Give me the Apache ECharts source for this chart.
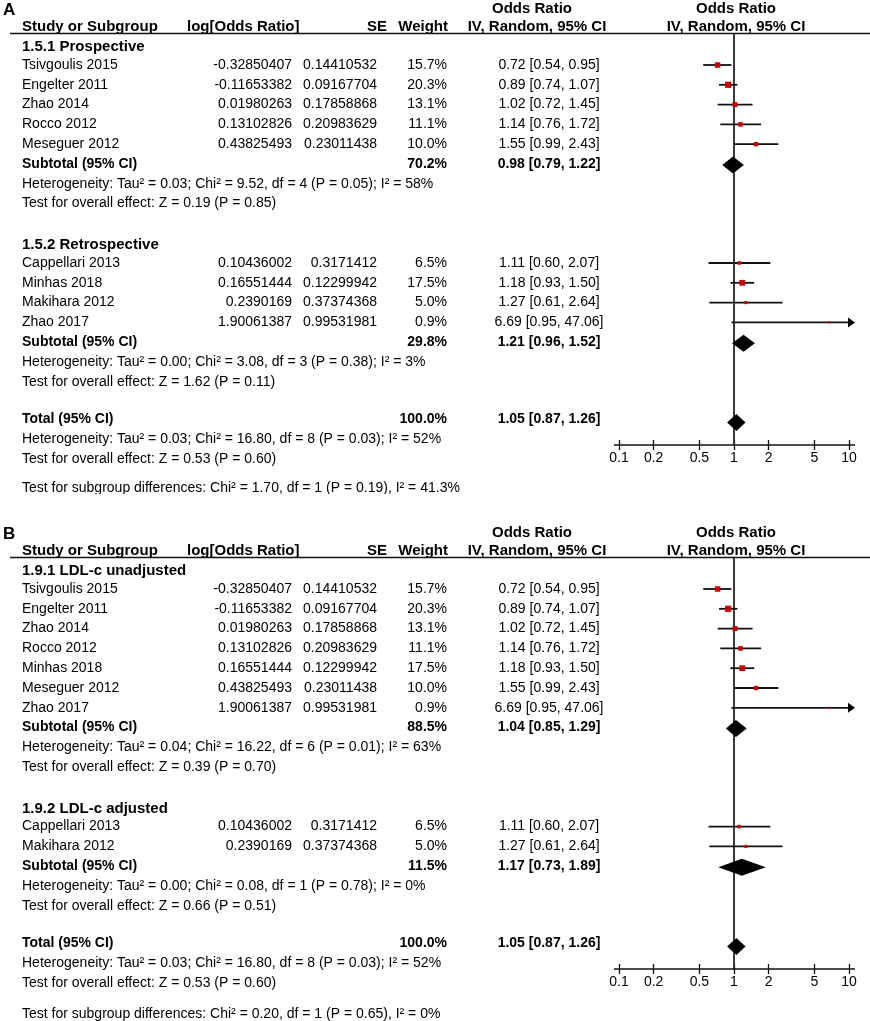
<!DOCTYPE html>
<html><head><meta charset="utf-8">
<script src="https://cdn.jsdelivr.net/npm/echarts@6/dist/echarts.min.js"></script>
<style>html,body{margin:0;padding:0;background:#fff}#c{width:870px;height:1021px}</style>
</head><body><div id="c"></div><script>
// ---------- data ----------
const studyNames = ['Tsivgoulis 2015','Engelter 2011','Zhao 2014','Rocco 2012','Meseguer 2012','Cappellari 2013','Minhas 2018','Makihara 2012','Zhao 2017'];
const logOR   = [-0.32850407,-0.11653382,0.01980263,0.13102826,0.43825493,0.10436002,0.16551444,0.2390169,1.90061387];
const seVals  = [0.14410532,0.09167704,0.17858868,0.20983629,0.23011438,0.3171412,0.12299942,0.37374368,0.99531981];
const weights = [15.7,20.3,13.1,11.1,10.0,6.5,17.5,5.0,0.9];
const orVals  = [0.72,0.89,1.02,1.14,1.55,1.11,1.18,1.27,6.69];
const ciLow   = [0.54,0.74,0.72,0.76,0.99,0.60,0.93,0.61,0.95];
const ciHigh  = [0.95,1.07,1.45,1.72,2.43,2.07,1.50,2.64,47.06];

const groupTitlesA = ['1.5.1 Prospective','1.5.2 Retrospective'];
const groupStudiesA = [[0,1,2,3,4],[5,6,7,8]];
const subWeightA = [70.2,29.8];
const subOrA = [0.98,1.21];
const subLowA = [0.79,0.96];
const subHighA = [1.22,1.52];
const subHetA = ['Heterogeneity: Tau² = 0.03; Chi² = 9.52, df = 4 (P = 0.05); I² = 58%','Heterogeneity: Tau² = 0.00; Chi² = 3.08, df = 3 (P = 0.38); I² = 3%'];
const subTestA = ['Test for overall effect: Z = 0.19 (P = 0.85)','Test for overall effect: Z = 1.62 (P = 0.11)'];
const diffA = 'Test for subgroup differences: Chi² = 1.70, df = 1 (P = 0.19), I² = 41.3%';

const groupTitlesB = ['1.9.1 LDL-c unadjusted','1.9.2 LDL-c adjusted'];
const groupStudiesB = [[0,1,2,3,6,4,8],[5,7]];
const subWeightB = [88.5,11.5];
const subOrB = [1.04,1.17];
const subLowB = [0.85,0.73];
const subHighB = [1.29,1.89];
const subHetB = ['Heterogeneity: Tau² = 0.04; Chi² = 16.22, df = 6 (P = 0.01); I² = 63%','Heterogeneity: Tau² = 0.00; Chi² = 0.08, df = 1 (P = 0.78); I² = 0%'];
const subTestB = ['Test for overall effect: Z = 0.39 (P = 0.70)','Test for overall effect: Z = 0.66 (P = 0.51)'];
const diffB = 'Test for subgroup differences: Chi² = 0.20, df = 1 (P = 0.65), I² = 0%';

const totalWeight = 100.0, totalOr = 1.05, totalLow = 0.87, totalHigh = 1.26;
const totalHet = 'Heterogeneity: Tau² = 0.03; Chi² = 16.80, df = 8 (P = 0.03); I² = 52%';
const totalTest = 'Test for overall effect: Z = 0.53 (P = 0.60)';

const tickValues = [0.1,0.2,0.5,1,2,5,10];
const tickLabels = ['0.1','0.2','0.5','1','2','5','10'];
const panelLabels = ['A','B'];

// ---------- layout / style ----------
const FONT = "'Liberation Sans', Arial, Helvetica, sans-serif";
const FS = 14;
const HFS = 15;
const ROW_PX = 19.8;
const GRID_TOPS = [34, 558];
const GRID_H = 411;
const FIRST_STUDY_OFF = 31; // px from grid top to row 1
const Y_MIN = 1 - FIRST_STUDY_OFF / ROW_PX;
const Y_MAX = Y_MIN + GRID_H / ROW_PX;
const COL = {study:22, logR:292, seR:377, wR:447, effC:549};
const HEAD = {logL:187, seR:387, wR:448, effC:532, forestC:736};
const RED = '#c80000';

const panels = [
  {titles:groupTitlesA, studies:groupStudiesA, w:subWeightA, or:subOrA, lo:subLowA, hi:subHighA, het:subHetA, test:subTestA, diff:diffA},
  {titles:groupTitlesB, studies:groupStudiesB, w:subWeightB, or:subOrB, lo:subLowB, hi:subHighB, het:subHetB, test:subTestB, diff:diffB}
];

function fmtCI(o,l,h){return o.toFixed(2)+' ['+l.toFixed(2)+', '+h.toFixed(2)+']';}

function buildRows(P){
  const rows=[]; let r=0;
  P.titles.forEach((t,gi)=>{
    rows.push({r:r++, kind:'heading', text:t});
    P.studies[gi].forEach(si=>rows.push({r:r++, kind:'study', si}));
    rows.push({r:r++, kind:'subtotal', gi});
    rows.push({r:r++, kind:'note', text:P.het[gi]});
    rows.push({r:r++, kind:'note', text:P.test[gi]});
    r++;
  });
  rows.push({r:r++, kind:'total'});
  rows.push({r:r++, kind:'tnote', text:totalHet});
  rows.push({r:r++, kind:'tnote', text:totalTest});
  rows.push({r:r++, kind:'diff', text:P.diff});
  return rows;
}

const chart = echarts.init(document.getElementById('c'), null, {renderer:'canvas'});

const grids=[], xAxes=[], yAxes=[], series=[];
panels.forEach((P,pi)=>{
  const rows = buildRows(P);
  P.rows = rows;
  grids.push({left:619, width:230, top:GRID_TOPS[pi], height:GRID_H, containLabel:false});
  xAxes.push({type:'log', logBase:10, min:0.1, max:10, gridIndex:pi, position:'bottom', offset:-5,
    axisLine:{show:false, onZero:false}, splitLine:{show:false},
    axisTick:{show:true, customValues:tickValues, length:10, lineStyle:{color:'#111', width:1.3}},
    axisLabel:{show:true, customValues:tickValues, margin:11, color:'#000', fontSize:FS, fontFamily:FONT,
      formatter:(v)=>{let best=0;tickValues.forEach((t,i)=>{if(Math.abs(Math.log(t)-Math.log(v))<Math.abs(Math.log(tickValues[best])-Math.log(v)))best=i;});return tickLabels[best];}}
  });
  yAxes.push({type:'value', gridIndex:pi, inverse:true, min:Y_MIN, max:Y_MAX, show:false});
  const xi = pi;
  // reference line at OR = 1 and axis line
  series.push({type:'custom', xAxisIndex:xi, yAxisIndex:pi, clip:false, z:1, silent:true,
    data:[[1, Y_MIN]], encode:{x:0,y:1},
    renderItem:(params, api)=>{
      const top = api.coord([1, Y_MIN]), bot = api.coord([1, Y_MAX]);
      const l = api.coord([0.1, Y_MAX]), r = api.coord([10, Y_MAX]);
      return {type:'group', children:[
        {type:'line', shape:{x1:top[0], y1:top[1], x2:bot[0], y2:bot[1]}, style:{stroke:'#3a3a3a', lineWidth:2}},
        {type:'line', shape:{x1:l[0]-5, y1:l[1], x2:r[0]+6, y2:r[1]}, style:{stroke:'#111', lineWidth:1.4}}
      ]};
    }});
  // studies
  const sData = rows.filter(x=>x.kind==='study').map(x=>[orVals[x.si], ciLow[x.si], ciHigh[x.si], x.r, weights[x.si]]);
  series.push({type:'custom', xAxisIndex:xi, yAxisIndex:pi, clip:false, z:3, silent:true,
    data:sData, encode:{x:0,y:3},
    renderItem:(params, api)=>{
      const o=api.value(0), lo=api.value(1), hi=api.value(2), r=api.value(3), w=api.value(4);
      const c = api.coord([o,r]);
      const lx = api.coord([Math.max(lo,0.1), r])[0];
      const hx = api.coord([Math.min(hi,10), r])[0];
      const side = Math.max(2, 1.38*Math.sqrt(w));
      const ch = [
        {type:'line', shape:{x1:lx, y1:c[1], x2:hx, y2:c[1]}, style:{stroke:'#111', lineWidth:1.8}},
        {type:'rect', shape:{x:c[0]-side/2, y:c[1]-side/2, width:side, height:side}, style:{fill:RED}}
      ];
      if(hi>10) ch.push({type:'polygon', shape:{points:[[hx-1,c[1]-5],[hx+6,c[1]],[hx-1,c[1]+5]]}, style:{fill:'#000'}});
      if(lo<0.1) ch.push({type:'polygon', shape:{points:[[lx+1,c[1]-5],[lx-6,c[1]],[lx+1,c[1]+5]]}, style:{fill:'#000'}});
      return {type:'group', children:ch};
    }});
  // diamonds
  const dData = rows.filter(x=>x.kind==='subtotal').map(x=>[P.or[x.gi], P.lo[x.gi], P.hi[x.gi], x.r]);
  rows.filter(x=>x.kind==='total').forEach(x=>dData.push([totalOr, totalLow, totalHigh, x.r]));
  series.push({type:'custom', xAxisIndex:xi, yAxisIndex:pi, clip:false, z:3, silent:true,
    data:dData, encode:{x:0,y:3},
    renderItem:(params, api)=>{
      const o=api.value(0), lo=api.value(1), hi=api.value(2), r=api.value(3);
      const c = api.coord([o,r]);
      const lx = api.coord([lo, r])[0], hx = api.coord([hi, r])[0];
      const hh = 8.5;
      return {type:'polygon', shape:{points:[[lx,c[1]+1],[c[0],c[1]+1-hh],[hx,c[1]+1],[c[0],c[1]+1+hh]]}, style:{fill:'#000'}};
    }});
});

chart.setOption({animation:false, backgroundColor:'#fff', grid:grids, xAxis:xAxes, yAxis:yAxes, series:series});

// ---------- table text ----------
const gfx = [];
function txt(x,y,text,align,bold,size){
  gfx.push({type:'text', x:x, y:y, silent:true, z:10,
    style:{text:text, fill:'#000', font:(bold?'bold ':'')+(size||FS)+'px '+FONT,
      align:align, textAlign:align, verticalAlign:'middle', textVerticalAlign:'middle'}});
}
panels.forEach((P,pi)=>{
  const top = GRID_TOPS[pi];
  const rowY = (r)=>chart.convertToPixel({gridIndex:pi}, [1, r])[1];
  txt(3, top-24, panelLabels[pi], 'left', true, 17);
  txt(HEAD.effC, top-25, 'Odds Ratio', 'center', true, HFS);
  txt(HEAD.forestC, top-25, 'Odds Ratio', 'center', true, HFS);
  const hy = top-7;
  txt(COL.study, hy, 'Study or Subgroup', 'left', true, HFS);
  txt(HEAD.logL, hy, 'log[Odds Ratio]', 'left', true, HFS);
  txt(HEAD.seR, hy, 'SE', 'right', true, HFS);
  txt(HEAD.wR, hy, 'Weight', 'right', true, HFS);
  txt(HEAD.effC+5, hy, 'IV, Random, 95% CI', 'center', true, HFS);
  txt(HEAD.forestC, hy, 'IV, Random, 95% CI', 'center', true, HFS);
  gfx.push({type:'line', silent:true, z:10, shape:{x1:10, y1:top-0.5, x2:870, y2:top-0.5}, style:{stroke:'#111', lineWidth:1.5}});
  P.rows.forEach(row=>{
    let y = rowY(row.r);
    if(row.kind==='heading'){ txt(COL.study, y+2, row.text, 'left', true, HFS); }
    else if(row.kind==='study'){
      const i=row.si;
      txt(COL.study, y, studyNames[i], 'left', false);
      txt(COL.logR, y, String(logOR[i]), 'right', false);
      txt(COL.seR, y, String(seVals[i]), 'right', false);
      txt(COL.wR, y, weights[i].toFixed(1)+'%', 'right', false);
      txt(COL.effC, y, fmtCI(orVals[i],ciLow[i],ciHigh[i]), 'center', false);
    } else if(row.kind==='subtotal'){
      txt(COL.study, y, 'Subtotal (95% CI)', 'left', true);
      txt(COL.wR, y, P.w[row.gi].toFixed(1)+'%', 'right', true);
      txt(COL.effC, y, fmtCI(P.or[row.gi],P.lo[row.gi],P.hi[row.gi]), 'center', true);
    } else if(row.kind==='total'){
      txt(COL.study, y-2, 'Total (95% CI)', 'left', true);
      txt(COL.wR, y-2, totalWeight.toFixed(1)+'%', 'right', true);
      txt(COL.effC, y-2, fmtCI(totalOr,totalLow,totalHigh), 'center', true);
    } else if(row.kind==='note'){ txt(COL.study, y, row.text, 'left', false); }
    else if(row.kind==='tnote'){ txt(COL.study, y-2, row.text, 'left', false); }
    else if(row.kind==='diff'){ txt(COL.study, y+(pi?9:7), row.text, 'left', false); }
  });
});
// crop of panel A's last line, as in the source figure
gfx.push({type:'rect', silent:true, z:20, shape:{x:0, y:494, width:870, height:5}, style:{fill:'#fff'}});
chart.setOption({graphic:{elements:gfx}});
</script></body></html>
